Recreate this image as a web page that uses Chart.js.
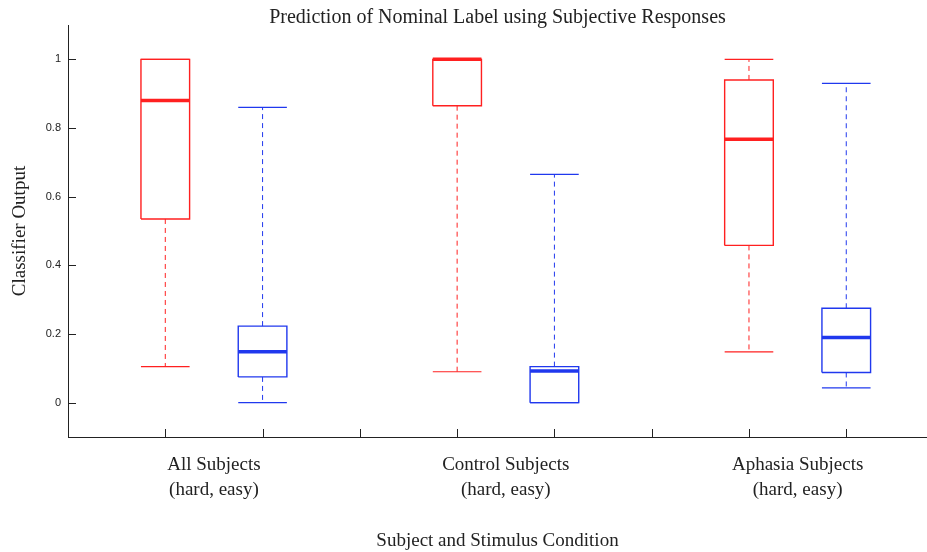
<!DOCTYPE html>
<html>
<head>
<meta charset="utf-8">
<script src="https://cdn.jsdelivr.net/npm/chart.js@4.4.1/dist/chart.umd.min.js"></script>
<style>
  html, body { margin: 0; padding: 0; background: #fff; overflow: hidden; }
  #wrap { width: 927px; height: 552px; }
</style>
</head>
<body>
<div id="wrap"><canvas id="boxChart"></canvas></div>
<script>
// groups and box positions along the x axis
const groups = ["All Subjects", "Control Subjects", "Aphasia Subjects"];
const groupPos = [1.5, 4.5, 7.5];
const tickPos = [1, 2, 3, 4, 5, 6, 7, 8];
const yTicks = [0, 0.2, 0.4, 0.6, 0.8, 1];

// one entry per box: hard, easy, hard, easy, hard, easy
const boxPos = [1, 2, 4, 5, 7, 8];
const condition = ["hard", "easy", "hard", "easy", "hard", "easy"];
const whiskerLow = [0.105, 0.0, 0.09, 0.0, 0.148, 0.043];
const q1 = [0.535, 0.075, 0.865, 0.0, 0.458, 0.088];
const median = [0.88, 0.148, 1.0, 0.092, 0.767, 0.19];
const q3 = [1.0, 0.223, 1.0, 0.105, 0.94, 0.275];
const whiskerHigh = [1.0, 0.86, 1.0, 0.665, 1.0, 0.93];

const colors = { hard: "rgb(255,32,32)", easy: "rgb(32,56,238)" };
const halfW = 0.25;
const serif = "'Liberation Serif', 'Times New Roman', serif";

function line(points, color, width, dash) {
  return {
    type: "line",
    data: points,
    borderColor: color,
    borderWidth: width,
    borderDash: dash || [],
    pointRadius: 0,
    fill: false,
    tension: 0,
  };
}

const datasets = [];
boxPos.forEach((x, i) => {
  const c = colors[condition[i]];
  const l = x - halfW, r = x + halfW;
  // whiskers (dashed) and caps
  datasets.push(line([{ x: x, y: q3[i] }, { x: x, y: whiskerHigh[i] }], c, 1, [5, 4]));
  datasets.push(line([{ x: x, y: q1[i] }, { x: x, y: whiskerLow[i] }], c, 1, [5, 4]));
  datasets.push(line([{ x: l, y: whiskerHigh[i] }, { x: r, y: whiskerHigh[i] }], c, 1.2));
  datasets.push(line([{ x: l, y: whiskerLow[i] }, { x: r, y: whiskerLow[i] }], c, 1.2));
  // box
  datasets.push(line([
    { x: l, y: q1[i] }, { x: r, y: q1[i] }, { x: r, y: q3[i] },
    { x: l, y: q3[i] }, { x: l, y: q1[i] },
  ], c, 1.4));
  // median
  datasets.push(line([{ x: l, y: median[i] }, { x: r, y: median[i] }], c, 3.5));
});

// MATLAB style tick marks pointing into the axes
const inwardTicks = {
  id: "inwardTicks",
  afterDatasetsDraw(chart) {
    const { ctx, chartArea, scales } = chart;
    ctx.save();
    ctx.strokeStyle = "#222";
    ctx.lineWidth = 1;
    ctx.beginPath();
    yTicks.forEach((v) => {
      const y = Math.round(scales.y.getPixelForValue(v)) + 0.5;
      ctx.moveTo(chartArea.left, y);
      ctx.lineTo(chartArea.left + 8, y);
    });
    tickPos.forEach((v) => {
      const x = Math.round(scales.x.getPixelForValue(v)) + 0.5;
      ctx.moveTo(x, chartArea.bottom);
      ctx.lineTo(x, chartArea.bottom - 8);
    });
    ctx.stroke();
    ctx.restore();
  },
};

new Chart("boxChart", {
  type: "line",
  data: { datasets: datasets },
  plugins: [inwardTicks],
  options: {
    responsive: true,
    maintainAspectRatio: false,
    animation: false,
    layout: { padding: 0 },
    plugins: {
      legend: { display: false },
      tooltip: { enabled: false },
    },
    scales: {
      // top axis only carries the title so that it is centred on the axes
      xTop: {
        type: "linear",
        position: "top",
        min: 0,
        max: 8.83,
        grid: { display: false, drawTicks: false },
        border: { display: false },
        ticks: { display: false },
        title: {
          display: true,
          text: "Prediction of Nominal Label using Subjective Responses",
          color: "#222",
          font: { family: serif, size: 20, lineHeight: 1 },
          padding: { top: 8, bottom: -3 },
        },
      },
      x: {
        type: "linear",
        min: 0,
        max: 8.83,
        grid: { display: false },
        border: { display: true, color: "#222", width: 1 },
        afterBuildTicks: (scale) => {
          scale.ticks = groupPos.map((v) => ({ value: v }));
        },
        afterFit: (scale) => {
          scale.height = 115;
        },
        ticks: {
          color: "#222",
          padding: 7,
          maxRotation: 0,
          autoSkip: false,
          font: { family: serif, size: 19, lineHeight: 1.35 },
          callback: (v, i) => [groups[i], "(hard, easy)"],
        },
        title: {
          display: true,
          text: "Subject and Stimulus Condition",
          color: "#222",
          font: { family: serif, size: 19 },
          padding: { top: 0, bottom: 0 },
        },
      },
      y: {
        type: "linear",
        min: -0.1,
        max: 1.1,
        grid: { display: false, drawTicks: false },
        border: { display: true, color: "#222", width: 1 },
        afterBuildTicks: (scale) => {
          scale.ticks = yTicks.map((v) => ({ value: v }));
        },
        afterFit: (scale) => {
          scale.width = 68;
        },
        ticks: {
          color: "#222",
          padding: 7,
          font: { family: "'Liberation Sans', Arial, sans-serif", size: 11 },
          callback: (v) => String(+v.toFixed(1)),
        },
        title: {
          display: true,
          text: "Classifier Output",
          color: "#222",
          font: { family: serif, size: 19 },
          padding: { top: 9, bottom: 0 },
        },
      },
    },
  },
});
</script>
</body>
</html>
